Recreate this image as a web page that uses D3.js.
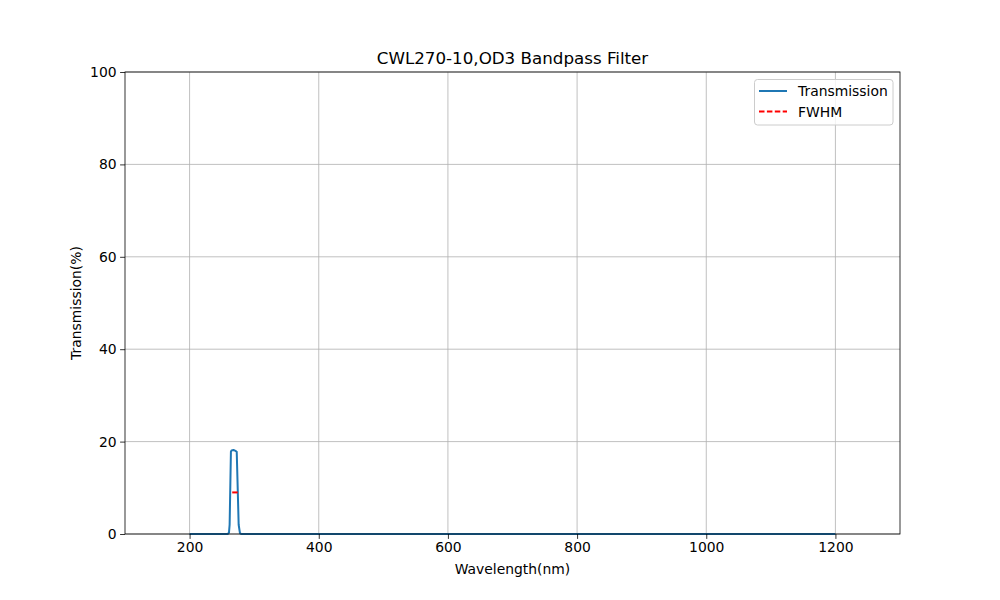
<!DOCTYPE html>
<html><head><meta charset="utf-8">
<script src="https://cdn.jsdelivr.net/npm/d3@7"></script>
<style>body{margin:0;background:#fff}svg{font-family:"DejaVu Sans",sans-serif}</style>
</head><body><svg id="c" width="1000" height="600"></svg>
<script>
const wavelength = [200, 230, 255, 259, 261, 262, 264, 265, 268, 271, 273, 276, 278, 280, 300, 500, 800, 1000, 1200];
const transmission = [0, 0, 0, 0, 0.3, 2, 17.8, 18.1, 18.2, 18, 17.8, 2, 0.2, 0, 0, 0, 0, 0, 0];
const fwhmX = [266, 275];
const fwhmY = [9, 9];
const xTicks = [200, 400, 600, 800, 1000, 1200];
const yTicks = [0, 20, 40, 60, 80, 100];

const svg = d3.select("#c");
const L = 125, R = 900, T = 72, B = 534;
const x = d3.scaleLinear().domain([100, 1300]).range([L, R]);
const y = d3.scaleLinear().domain([0, 100]).range([B, T]);

// grid
svg.append("g").selectAll("line").data(xTicks).join("line")
  .attr("x1", d => x(d)).attr("x2", d => x(d)).attr("y1", T).attr("y2", B)
  .attr("stroke", "#b0b0b0").attr("stroke-width", 0.8);
svg.append("g").selectAll("line").data(yTicks).join("line")
  .attr("x1", L).attr("x2", R).attr("y1", d => y(d)).attr("y2", d => y(d))
  .attr("stroke", "#b0b0b0").attr("stroke-width", 0.8);

// data
const pts = wavelength.map((w, i) => [w, transmission[i]]);
svg.append("path").datum(pts)
  .attr("d", d3.line().x(d => x(d[0])).y(d => y(d[1])))
  .attr("fill", "none").attr("stroke", "#1f77b4").attr("stroke-width", 2)
  .attr("stroke-linejoin", "round").attr("stroke-linecap", "butt");
svg.append("path").datum(fwhmX.map((v, i) => [v, fwhmY[i]]))
  .attr("d", d3.line().x(d => x(d[0])).y(d => y(d[1])))
  .attr("fill", "none").attr("stroke", "red").attr("stroke-width", 2)
  .attr("stroke-dasharray", "5.5,2.4");

// axes
const xa = svg.append("g").attr("transform", `translate(0,${B})`)
  .call(d3.axisBottom(x).tickValues(xTicks).tickSize(4.9).tickPadding(3.5).tickFormat(d3.format("d")));
const ya = svg.append("g").attr("transform", `translate(${L},0)`)
  .call(d3.axisLeft(y).tickValues(yTicks).tickSize(4.9).tickPadding(3.5).tickFormat(d3.format("d")));
[xa, ya].forEach(a => {
  a.select(".domain").remove();
  a.selectAll("text").attr("font-size", 13.9).attr("font-family", "DejaVu Sans").attr("fill", "#000");
  a.selectAll("line").attr("stroke", "#000").attr("stroke-width", 0.8);
});
svg.append("rect").attr("x", L).attr("y", T).attr("width", R - L).attr("height", B - T)
  .attr("fill", "none").attr("stroke", "#000").attr("stroke-width", 0.8);

// labels
svg.append("text").attr("x", (L + R) / 2).attr("y", 64).attr("text-anchor", "middle")
  .attr("font-size", 16.7).text("CWL270-10,OD3 Bandpass Filter");
svg.append("text").attr("x", (L + R) / 2).attr("y", 574).attr("text-anchor", "middle")
  .attr("font-size", 13.9).text("Wavelength(nm)");
svg.append("text").attr("transform", `translate(81,${(T + B) / 2}) rotate(-90)`).attr("text-anchor", "middle")
  .attr("font-size", 13.9).text("Transmission(%)");

// legend
const lg = svg.append("g");
lg.append("rect").attr("x", 754.5).attr("y", 79.5).attr("width", 138.5).attr("height", 45.5).attr("rx", 3)
  .attr("fill", "#fff").attr("fill-opacity", 0.8).attr("stroke", "#cccccc").attr("stroke-width", 1);
const items = [{t: "Transmission", c: "#1f77b4", dash: null}, {t: "FWHM", c: "red", dash: "5.5,2.4"}];
items.forEach((it, i) => {
  const yy = 91 + i * 20.5;
  lg.append("line").attr("x1", 759).attr("x2", 787).attr("y1", yy).attr("y2", yy)
    .attr("stroke", it.c).attr("stroke-width", 2).attr("stroke-dasharray", it.dash);
  lg.append("text").attr("x", 798).attr("y", yy + 5).attr("font-size", 13.9).text(it.t);
});
</script></body></html>
